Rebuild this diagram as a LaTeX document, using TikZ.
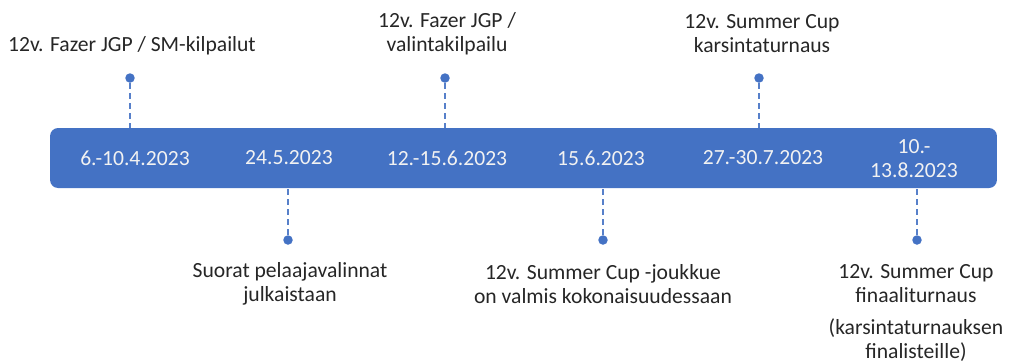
\documentclass[tikz,border=0pt]{standalone}
\usepackage{fontspec}
\setmainfont{Carlito}
\definecolor{tlblue}{HTML}{4472C4}
\definecolor{tlink}{HTML}{262626}

\begin{document}
\begin{tikzpicture}[x=0.02cm, y=-0.02cm,
	every node/.style={font=\fontsize{12.3}{13.6}\selectfont},
	datebar/.style={fill=tlblue, rounded corners=4.5pt, minimum width=18.94cm,
		minimum height=1.2cm, inner sep=0pt},
	datum/.style={text=white!95!black, align=center},
	pin/.style={circle, fill=tlblue, inner sep=0pt, minimum size=0.19cm},
	event/.style={text=tlink, align=center},
	stem/.style={draw=tlblue!90, line width=1.4pt, dash pattern=on 3.4pt off 2.3pt}]
	\useasboundingbox (0,0) rectangle (1009,363);
	% the bar with the dates
	\node[datebar] (bar) at (523.5,158) {};
	\node[datum] (d1) at (135,158) {6.-10.4.2023};
	\node[datum] (d2) at (289,158) {24.5.2023};
	\node[datum] (d3) at (447,158) {12.-15.6.2023};
	\node[datum] (d4) at (601,158) {15.6.2023};
	\node[datum] (d5) at (763,158) {27.-30.7.2023};
	\node[datum] (d6) at (914,159) {10.-\\13.8.2023};
	% pins above and below
	\node[pin] (p1) at (130,78) {};
	\node[pin] (p2) at (288,240) {};
	\node[pin] (p3) at (445,78) {};
	\node[pin] (p4) at (603,240) {};
	\node[pin] (p5) at (759,78) {};
	\node[pin] (p6) at (917,240) {};
	\foreach \p in {p1,p3,p5}
		\draw[stem] (\p) -- (\p |- bar.north);
	\foreach \p in {p2,p4,p6}
		\draw[stem] (\p) -- (\p |- bar.south);
	% events
	\node[event] (e1) at (132,46) {12v. Fazer JGP / SM-kilpailut};
	\node[event] (e2) at (447,34) {12v. Fazer JGP /\\valintakilpailu};
	\node[event] (e3) at (762,34) {12v. Summer Cup\\karsintaturnaus};
	\node[event] (e4) at (290,284) {Suorat pelaajavalinnat\\julkaistaan};
	\node[event] (e5) at (603,284) {12v. Summer Cup -joukkue\\on valmis kokonaisuudessaan};
	\node[event, anchor=north] (e6) at (916,258) {12v. Summer Cup\\finaaliturnaus\\[5pt](karsintaturnauksen\\finalisteille)};
\end{tikzpicture}
\end{document}
